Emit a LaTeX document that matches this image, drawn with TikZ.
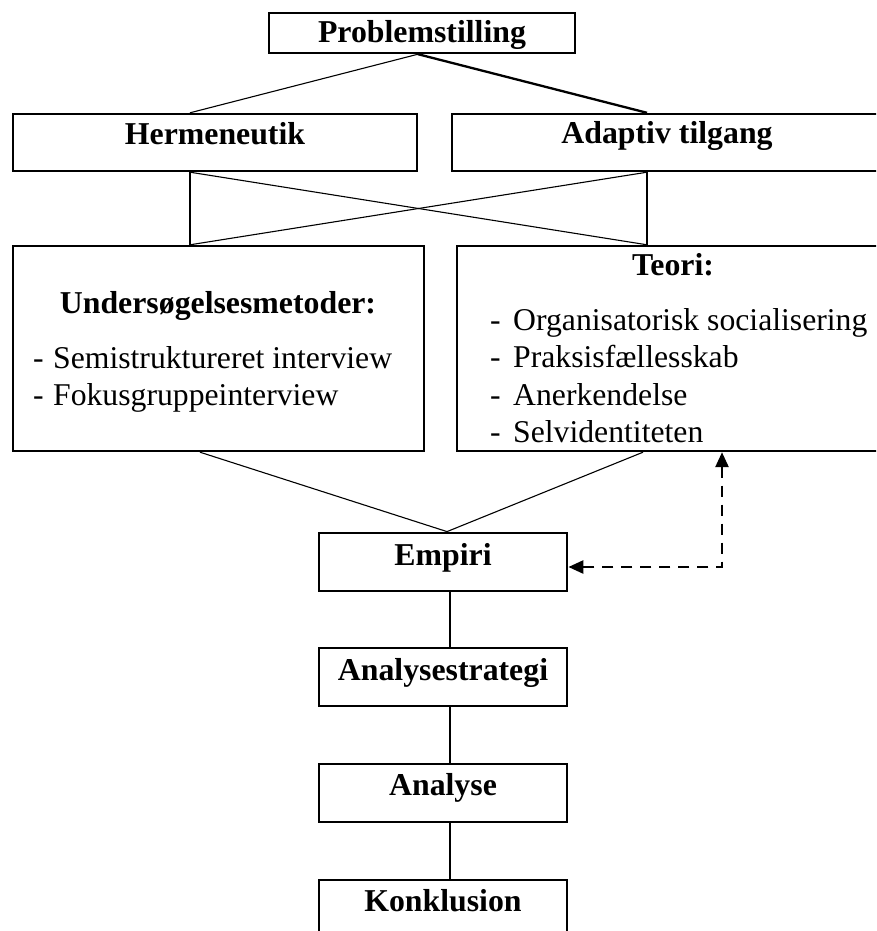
\documentclass[tikz,border=0pt]{standalone}
\usepackage{fontspec}
\setmainfont{Liberation Serif}
\usetikzlibrary{arrows.meta,calc}
\begin{document}
\begin{tikzpicture}[x=1pt,y=-1pt,
  box/.style={draw,line width=2.4pt,inner sep=0pt,rectangle},
  lbl/.style={inner sep=0pt,anchor=base,font=\fontsize{31.8}{37}\selectfont\bfseries},
  item/.style={inner sep=0pt,anchor=base west,font=\fontsize{31.7}{37}\selectfont},
  thin/.style={line width=1.1pt},
  thick/.style={line width=2.3pt},
  stem/.style={line width=2.8pt},
  dasharrow/.style={line width=2.6pt,dash pattern=on 11pt off 8pt,
    {Triangle[length=15pt,width=13pt]}-{Triangle[length=15pt,width=13pt]}}
]
\useasboundingbox (0,0) rectangle (876,931);
\clip (0,0) rectangle (876,931);

% columns
\coordinate (colL) at (190,0);
\coordinate (colR) at (647,0);
\coordinate (colM) at (418,0);
\coordinate (colUL) at (200,0);
\coordinate (colTR) at (643,0);
\coordinate (dk) at (722,567);

% boxes
\node[box,minimum width=306pt,minimum height=40pt] (prob) at (422,33) {};
\node[box,minimum width=404pt,minimum height=57pt] (herm) at (215,142.5) {};
\node[box,minimum width=434pt,minimum height=57pt] (adapt) at (669,142.5) {};
\node[box,minimum width=411pt,minimum height=205pt] (unders) at (218.5,348.5) {};
\node[box,minimum width=433pt,minimum height=205pt] (teori) at (673.5,348.5) {};
\node[box,line width=2.8pt,minimum width=248pt,minimum height=58pt] (empiri) at (443,562) {};
\node[box,line width=2.8pt,minimum width=248pt,minimum height=58pt] (strat) at (443,677) {};
\node[box,line width=2.8pt,minimum width=248pt,minimum height=58pt] (analyse) at (443,793) {};
\node[box,line width=2.8pt,minimum width=248pt,minimum height=58pt] (konkl) at (443,909) {};

% texts
\node[lbl] (probT) at (422,43) {Problemstilling};
\node[lbl] (hermT) at (215,144) {Hermeneutik};
\node[lbl] (adaptT) at (667,143) {Adaptiv tilgang};
\node[lbl] (undersT) at (218,313) {Undersøgelsesmetoder:};
\node[item] (u1) at (33,368) {\makebox[20pt][l]{-}Semistruktureret interview};
\node[item] (u2) at (33,405) {\makebox[20pt][l]{-}Fokusgruppeinterview};
\node[lbl] (teoriT) at (673,275) {Teori:};
\node[item] (t1) at (490,330) {\makebox[23pt][l]{-}Organisatorisk socialisering};
\node[item] (t2) at (490,367) {\makebox[23pt][l]{-}Praksisfællesskab};
\node[item] (t3) at (490,405) {\makebox[23pt][l]{-}Anerkendelse};
\node[item] (t4) at (490,442) {\makebox[23pt][l]{-}Selvidentiteten};
\node[lbl] (empiriT) at (443,565) {Empiri};
\node[lbl] (stratT) at (443,680) {Analysestrategi};
\node[lbl] (analyseT) at (443,795) {Analyse};
\node[lbl] (konklT) at (443,911) {Konklusion};

% connectors
\draw[thin] (prob.south -| colM) -- (herm.north -| colL);
\draw[thick] (prob.south -| colM) -- (adapt.north -| colR);
\draw[thick] (herm.south -| colL) -- (unders.north -| colL);
\draw[thick] (adapt.south -| colR) -- (teori.north -| colR);
\draw[thin] (herm.south -| colL) -- (teori.north -| colR);
\draw[thin] (adapt.south -| colR) -- (unders.north -| colL);
\draw[thin] (unders.south -| colUL) -- ([xshift=4pt]empiri.north);
\draw[thin] (teori.south -| colTR) -- ([xshift=4pt]empiri.north);
\draw[stem] ([xshift=7pt]empiri.south) -- ([xshift=7pt]strat.north);
\draw[stem] ([xshift=7pt]strat.south) -- ([xshift=7pt]analyse.north);
\draw[stem] ([xshift=7pt]analyse.south) -- ([xshift=7pt]konkl.north);
\draw[dasharrow] (teori.south -| dk) -- (dk) -- (empiri.east |- dk);
\end{tikzpicture}
\end{document}
